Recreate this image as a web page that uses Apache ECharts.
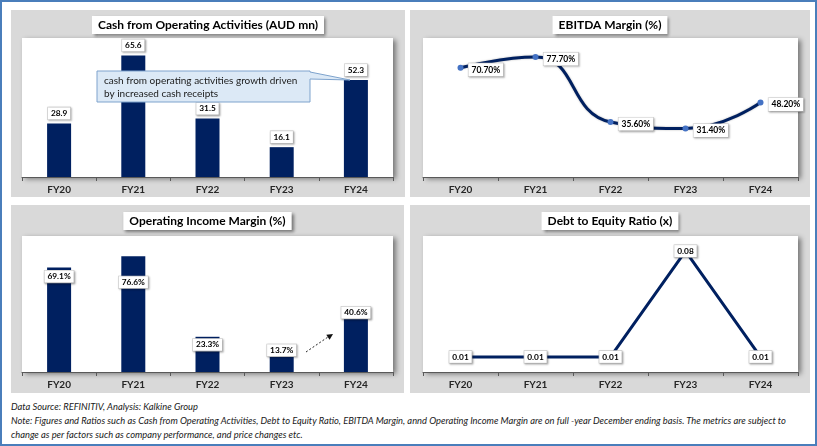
<!DOCTYPE html>
<html><head><meta charset="utf-8">
<script src="https://cdn.jsdelivr.net/npm/echarts@6/dist/echarts.min.js"></script>
<style>
html,body{margin:0;padding:0;background:#fff;}
#wrap{position:relative;width:817px;height:446px;overflow:hidden;}
#frame{position:absolute;left:0;top:0;width:813px;height:442px;border:2px solid #4a7ebb;}
.c{position:absolute;background:#d9d9d9;}
#foot{position:absolute;left:11px;top:400px;width:805px;font-family:Lato,"Open Sans",sans-serif;font-style:italic;font-size:9.35px;line-height:14px;color:#1a1a1a;white-space:nowrap;}
</style></head>
<body><div id="wrap"><div id="frame"></div>
<div id="c1" class="c" style="left:11px;top:10px;width:394px;height:187px"></div>
<div id="c2" class="c" style="left:410px;top:10px;width:400px;height:187px"></div>
<div id="c3" class="c" style="left:11px;top:205px;width:393px;height:188px"></div>
<div id="c4" class="c" style="left:410px;top:205px;width:400px;height:188px"></div>
<div id="foot">Data Source: REFINITIV, Analysis: Kalkine Group<br>Note: Figures and Ratios such as Cash from Operating Activities, Debt to Equity Ratio, EBITDA Margin, annd Operating Income Margin are on full -year December ending basis. The metrics are subject to<br>change as per factors such as company performance, and price changes etc.</div>
</div>
<script>
var categories = ['FY20','FY21','FY22','FY23','FY24'];
var cashOps = [28.9, 65.6, 31.5, 16.1, 52.3];
var ebitdaMargin = [70.7, 77.7, 35.6, 31.4, 48.2];
var opIncomeMargin = [69.1, 76.6, 23.3, 13.7, 40.6];
var debtEquity = [0.01, 0.01, 0.01, 0.08, 0.01];

var FONT = 'Lato, "Open Sans", sans-serif';
var NAVY = '#002060';

function titleOpt(text, top){
  return {text:text, left:'center', top:top, padding:[3,6],
    backgroundColor:'#fff', shadowBlur:3, shadowColor:'rgba(0,0,0,0.45)', shadowOffsetX:2, shadowOffsetY:2,
    textStyle:{fontFamily:FONT, fontSize:12, fontWeight:'bold', color:'#000'}};
}
function gridOpt(left, top, width, height){
  return {left:left, top:top, width:width, height:height, show:true, backgroundColor:'#fff', borderWidth:0,
    shadowBlur:5, shadowColor:'rgba(0,0,0,0.45)', shadowOffsetX:3, shadowOffsetY:2};
}
function xAxisOpt(){
  return {type:'category', data:categories,
    axisLine:{lineStyle:{color:'#595959', width:1}},
    axisTick:{show:true, length:4, lineStyle:{color:'#595959'}},
    axisLabel:{fontFamily:FONT, fontSize:10, fontWeight:'bold', color:'#262626', margin:8}};
}
function yAxisOpt(max){ return {type:'value', min:0, max:max, show:false}; }
function boxLabel(fs){
  return {show:true, fontFamily:FONT, fontSize:fs, fontWeight:'bold', color:'#000',
    backgroundColor:'#fff', borderColor:'#c8c8c8', borderWidth:0.6, padding:[2,3],
    shadowBlur:2, shadowColor:'rgba(0,0,0,0.25)', shadowOffsetX:1, shadowOffsetY:1};
}

// Chart 1 - Cash from operating activities
var ch1 = echarts.init(document.getElementById('c1'));
var l1 = boxLabel(8.3); l1.position='top'; l1.distance=4;
l1.formatter = function(p){return p.value.toFixed(1);};
ch1.setOption({
  animation:false,
  title:titleOpt('Cash from Operating Activities (AUD mn)', 6),
  grid:gridOpt(11,28,371,139),
  xAxis:xAxisOpt(), yAxis:yAxisOpt(75),
  series:[{type:'bar', data:cashOps, barWidth:24, itemStyle:{color:NAVY}, label:l1}],
  graphic:[
    {type:'polygon', z:100, shape:{points:[[86,61],[299,61],[299,62],[339,70],[299,69],[299,92],[86,92]]},
      style:{fill:'#dce9f6', stroke:'#7ea3cd', lineWidth:1}},
    {type:'text', z:101, left:93, top:65, style:{text:'cash from operating activities growth driven\nby increased cash receipts',
      font:'10px '+FONT, fill:'#1a1a1a', lineHeight:12.5}}
  ]
});

// Chart 2 - EBITDA margin
var ch2 = echarts.init(document.getElementById('c2'));
var l2 = boxLabel(8.5); l2.position='right'; l2.distance=5; l2.offset=[0,2];
l2.formatter = function(p){return p.value.toFixed(2)+'%';};
ch2.setOption({
  animation:false,
  title:titleOpt('EBITDA Margin (%)', 6),
  grid:gridOpt(13,28,375,139),
  xAxis:xAxisOpt(), yAxis:yAxisOpt(90),
  series:[{type:'line', data:ebitdaMargin, smooth:0.5, symbol:'circle', symbolSize:6,
    lineStyle:{color:NAVY, width:3, shadowBlur:2, shadowColor:'rgba(0,0,0,0.3)'},
    itemStyle:{color:'#4472c4'}, label:l2}]
});

// Chart 3 - Operating income margin
var ch3 = echarts.init(document.getElementById('c3'));
var l3 = boxLabel(8.3); l3.position='top'; l3.distance=0;
l3.formatter = function(p){return p.value.toFixed(1)+'%';};
var l3Shift = {FY20:15, FY21:32, FY22:14, FY23:5, FY24:8};
ch3.setOption({
  animation:false,
  title:titleOpt('Operating Income Margin (%)', 7),
  grid:gridOpt(11,31,371,136),
  xAxis:xAxisOpt(), yAxis:yAxisOpt(90),
  series:[{type:'bar', barWidth:24, itemStyle:{color:NAVY}, label:l3,
    data:opIncomeMargin.map(function(v,i){return {value:v, label:{offset:[0,l3Shift[categories[i]]]}};})}],
  graphic:[
    {type:'line', z:100, shape:{x1:295,y1:147,x2:317,y2:132}, style:{stroke:'#222', lineWidth:1, lineDash:[2,2]}},
    {type:'polygon', z:100, shape:{points:[[322,129],[318.6,134.8],[315.3,129.8]]}, style:{fill:'#111'}}
  ]
});

// Chart 4 - Debt to equity
var ch4 = echarts.init(document.getElementById('c4'));
var l4 = boxLabel(8.3); l4.position='inside';
l4.formatter = function(p){return p.value.toFixed(2);};
ch4.setOption({
  animation:false,
  title:titleOpt('Debt to Equity Ratio (x)', 7),
  grid:gridOpt(13,31,375,136),
  xAxis:xAxisOpt(), yAxis:yAxisOpt(0.09),
  series:[{type:'line', data:debtEquity, symbol:'circle', symbolSize:2, itemStyle:{color:NAVY},
    lineStyle:{color:NAVY, width:3}, label:l4}]
});
</script></body></html>
